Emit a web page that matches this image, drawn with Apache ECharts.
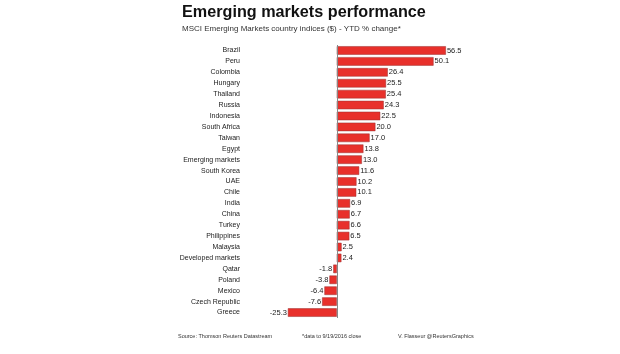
<!DOCTYPE html>
<html>
<head>
<meta charset="utf-8">
<script src="https://cdn.jsdelivr.net/npm/echarts@6/dist/echarts.min.js"></script>
<style>
  html, body { margin: 0; padding: 0; background: #fff; }
  #chart { width: 620px; height: 354px; }
</style>
</head>
<body>
<div id="chart"></div>
<script>
// countries, top to bottom
var countries = ['Brazil', 'Peru', 'Colombia', 'Hungary', 'Thailand', 'Russia', 'Indonesia',
  'South Africa', 'Taiwan', 'Egypt', 'Emerging markets', 'South Korea', 'UAE', 'Chile',
  'India', 'China', 'Turkey', 'Philippines', 'Malaysia', 'Developed markets', 'Qatar',
  'Poland', 'Mexico', 'Czech Republic', 'Greece'];
// YTD % change
var ytdChange = [56.5, 50.1, 26.4, 25.5, 25.4, 24.3, 22.5, 20.0, 17.0, 13.8, 13.0, 11.6,
  10.2, 10.1, 6.9, 6.7, 6.6, 6.5, 2.5, 2.4, -1.8, -3.8, -6.4, -7.6, -25.3];

var font = 'Liberation Sans, Arial, sans-serif';

// 正负值标签分左右
var barData = ytdChange.map(function (v) {
  return {
    value: v,
    label: { position: v < 0 ? 'left' : 'right' }
  };
});

var chart = echarts.init(document.getElementById('chart'));
var option = {
  backgroundColor: '#fff',
  animation: false,
  title: [{
    text: 'Emerging markets performance',
    left: 182, top: 5, padding: 0,
    textStyle: { fontFamily: font, fontSize: 16.2, fontWeight: 'bold', color: '#111' }
  }, {
    text: 'MSCI Emerging Markets country indices ($) - YTD % change*',
    left: 182, top: 25, padding: 0,
    textStyle: { fontFamily: font, fontSize: 8, fontWeight: 'normal', color: '#333' }
  }, {
    text: 'Source: Thomson Reuters Datastream',
    left: 178, top: 333, padding: 0,
    textStyle: { fontFamily: font, fontSize: 5.5, fontWeight: 'normal', color: '#333' }
  }, {
    text: '*data to 9/19/2016 close',
    left: 302, top: 333, padding: 0,
    textStyle: { fontFamily: font, fontSize: 5.5, fontWeight: 'normal', color: '#333' }
  }, {
    text: 'V. Flasseur @ReutersGraphics',
    left: 398, top: 333, padding: 0,
    textStyle: { fontFamily: font, fontSize: 5.5, fontWeight: 'normal', color: '#333' }
  }],
  grid: { left: 245, right: 148, top: 45, height: 273 },
  xAxis: {
    type: 'value',
    min: -47.5,
    max: 70,
    show: false
  },
  yAxis: {
    type: 'category',
    inverse: true,
    data: countries,
    axisLine: { show: false },
    axisTick: { show: false },
    axisLabel: { margin: 5, fontFamily: font, fontSize: 7, color: '#222' }
  },
  series: [{
    type: 'bar',
    data: barData,
    barWidth: 8.5,
    itemStyle: { color: '#e8302b', borderColor: '#9a3030', borderWidth: 0.5 },
    label: {
      show: true,
      distance: 1,
      fontFamily: font,
      fontSize: 7.5,
      color: '#222',
      formatter: function (p) { return p.value.toFixed(1); }
    },
    markLine: {
      silent: true,
      symbol: 'none',
      label: { show: false },
      lineStyle: { color: '#888', width: 1, type: 'solid' },
      data: [{ xAxis: 0 }]
    }
  }]
};
chart.setOption(option);
</script>
</body>
</html>
